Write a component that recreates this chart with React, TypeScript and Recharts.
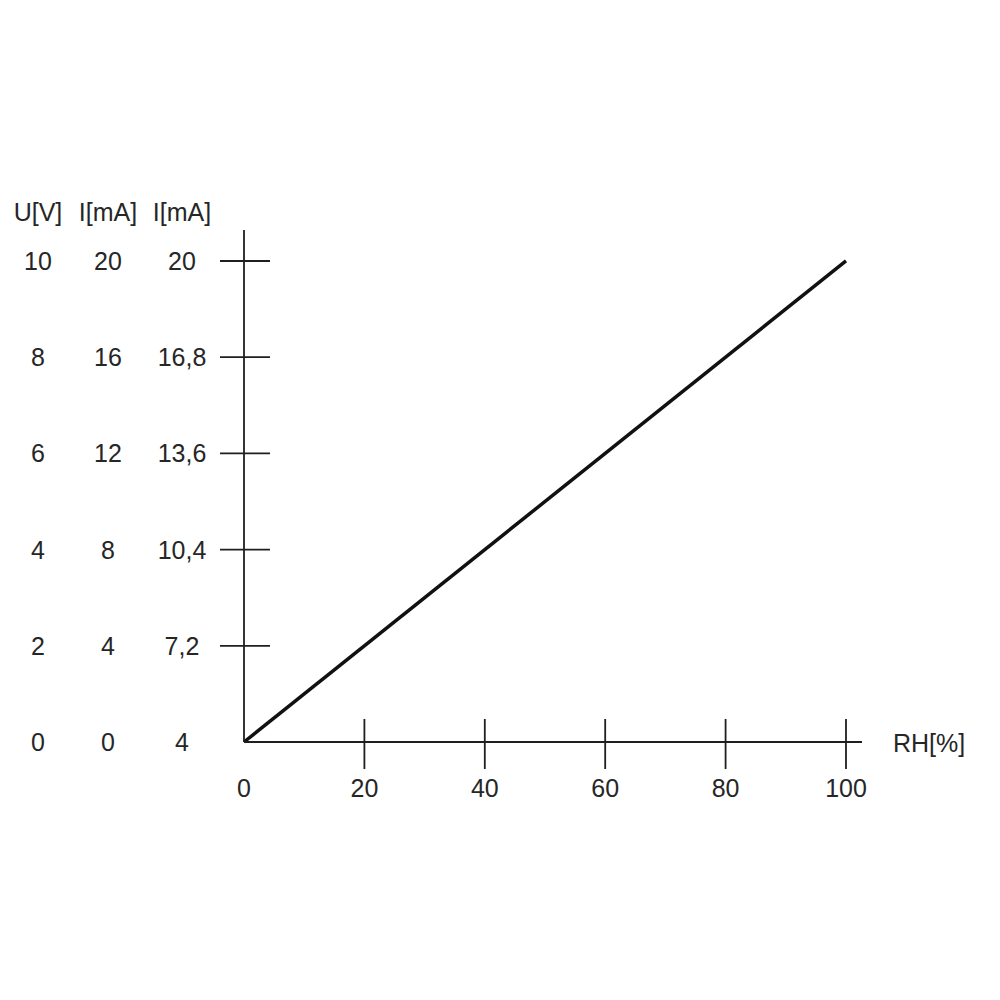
import React from 'react';
import { LineChart, Line, XAxis, YAxis } from 'recharts';

// sensor output: RH[%] -> U[V]
const rhValues = [0, 100];
const voltageValues = [0, 10];

const rhTicks = [0, 20, 40, 60, 80, 100];
const voltageTicks = [0, 2, 4, 6, 8, 10];
const currentLabels = ['0', '4', '8', '12', '16', '20'];
const currentOffsetLabels = ['4', '7,2', '10,4', '13,6', '16,8', '20'];
const yHeaders = ['U[V]', 'I[mA]', 'I[mA]'];
const xTitle = 'RH[%]';

const data = rhValues.map((rh, i) => ({ rh, u: voltageValues[i] }));

const AXIS = '#1f1f1f';
const TEXT = '#262626';
const FONT = '"Liberation Sans", Arial, sans-serif';
const FONT_SIZE = 25;
// label column centres, relative to the y axis line
const colOffsets = [-206, -136, -62];

const YTick = (props: any) => {
  const { x, y, payload } = props;
  const i = voltageTicks.indexOf(payload.value);
  const cols = [String(voltageTicks[i]), currentLabels[i], currentOffsetLabels[i]];
  return (
    <g>
      {payload.value !== 0 && (
        <line x1={x - 24} x2={x + 26} y1={y} y2={y} stroke={AXIS} strokeWidth={1.8} />
      )}
      {cols.map((t, k) => (
        <text key={k} x={x + colOffsets[k]} y={y + 9} textAnchor="middle" fill={TEXT} fontFamily={FONT} fontSize={FONT_SIZE}>
          {t}
        </text>
      ))}
    </g>
  );
};

const XTick = (props: any) => {
  const { x, y, payload } = props;
  return (
    <g>
      {payload.value !== 0 && (
        <line x1={x} x2={x} y1={y - 23} y2={y + 27} stroke={AXIS} strokeWidth={1.8} />
      )}
      <text x={x} y={y + 55} textAnchor="middle" fill={TEXT} fontFamily={FONT} fontSize={FONT_SIZE}>
        {payload.value}
      </text>
    </g>
  );
};

const YHeader = (props: any) => {
  const vb = props.viewBox || {};
  const axisX = (vb.x ?? 0) + (vb.width ?? 244);
  const top = vb.y ?? 230;
  return (
    <g>
      {yHeaders.map((t, k) => (
        <text key={k} x={axisX + colOffsets[k]} y={top - 9} textAnchor="middle" fill={TEXT} fontFamily={FONT} fontSize={FONT_SIZE}>
          {t}
        </text>
      ))}
    </g>
  );
};

const XTitle = (props: any) => {
  const vb = props.viewBox || {};
  const right = (vb.x ?? 244) + (vb.width ?? 618);
  const axisY = vb.y ?? 742;
  return (
    <text x={right + 31} y={axisY + 10} textAnchor="start" fill={TEXT} fontFamily={FONT} fontSize={FONT_SIZE}>
      {xTitle}
    </text>
  );
};

export default function App() {
  return (
    <div style={{ position: 'absolute', left: 0, top: 0, width: 1000, height: 1000, background: '#fff' }}>
      <LineChart width={1000} height={1000} data={data} margin={{ top: 230, right: 138, bottom: 198, left: 0 }}>
        <XAxis
          dataKey="rh"
          type="number"
          domain={[0, 102.66]}
          ticks={rhTicks}
          interval={0}
          height={60}
          tickSize={0}
          tickMargin={0}
          tickLine={false}
          axisLine={{ stroke: AXIS, strokeWidth: 1.8 }}
          tick={(p: any) => <XTick {...p} />}
          label={(p: any) => <XTitle {...p} />}
        />
        <YAxis
          dataKey="u"
          type="number"
          domain={[0, 10.644]}
          ticks={voltageTicks}
          interval={0}
          width={244}
          tickSize={0}
          tickMargin={0}
          tickLine={false}
          axisLine={{ stroke: AXIS, strokeWidth: 1.8 }}
          tick={(p: any) => <YTick {...p} />}
          label={(p: any) => <YHeader {...p} />}
        />
        <Line
          dataKey="u"
          type="linear"
          stroke="#111"
          strokeWidth={3.5}
          dot={false}
          activeDot={false}
          isAnimationActive={false}
        />
      </LineChart>
    </div>
  );
}
